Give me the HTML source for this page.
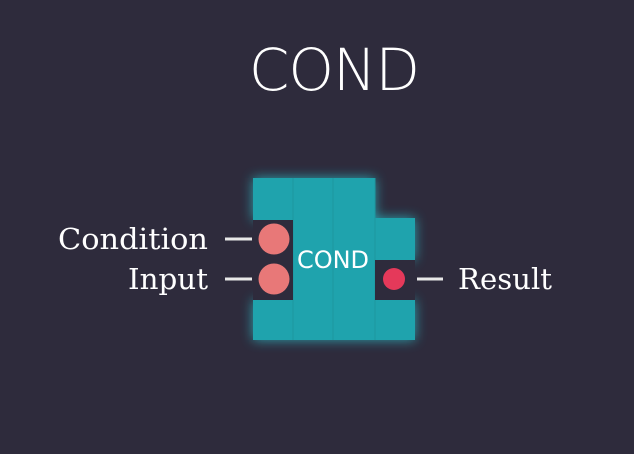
<!DOCTYPE html>
<html><head><style>
html,body{margin:0;padding:0}
body{width:634px;height:454px;background:#2e2b3c;position:relative;overflow:hidden;font-family:"Liberation Sans",sans-serif}
.t{position:absolute;color:#fff}
</style></head><body>
<div class="t" style="left:0;width:668px;text-align:center;top:36px;font-size:58px;font-family:'DejaVu Sans',sans-serif;font-weight:300;letter-spacing:-1px">COND</div>
<svg width="634" height="454" style="position:absolute;left:0;top:0">
<defs><filter id="g" x="-30%" y="-30%" width="160%" height="160%"><feGaussianBlur stdDeviation="6"/></filter></defs>
<g fill="#2ad0dc" opacity="0.7" filter="url(#g)">
<path d="M253 178H375V218H415V260H375V300H415V340H253V300H293V220H253Z"/>
</g>
<path d="M253 178H375V218H415V260H375V300H415V340H253V300H293V220H253Z" fill="#1fa3ad"/>
<g stroke="#1c97a0" stroke-width="1">
<line x1="293" y1="178" x2="293" y2="340"/><line x1="333" y1="178" x2="333" y2="340"/><line x1="375" y1="178" x2="375" y2="340"/>
</g>
<rect x="253" y="220" width="40" height="80" fill="#2e2b3c"/>
<rect x="375" y="260" width="40" height="40" fill="#2e2b3c"/>
<circle cx="274" cy="239" r="15.5" fill="#e87878"/>
<circle cx="274" cy="279" r="15.5" fill="#e87878"/>
<circle cx="394" cy="279" r="11" fill="#e5395a"/>
<g stroke="#e8e8e8" stroke-width="3">
<line x1="225" y1="239" x2="252" y2="239"/><line x1="225" y1="279" x2="252" y2="279"/><line x1="417" y1="279" x2="443" y2="279"/>
</g>
<text x="333" y="268" fill="#fff" font-size="24" text-anchor="middle" font-family="DejaVu Sans, sans-serif">COND</text>
<g fill="#fff" font-size="29" font-family="DejaVu Serif, serif">
<text x="58" y="249" textLength="150" lengthAdjust="spacingAndGlyphs">Condition</text>
<text x="128" y="289" textLength="80" lengthAdjust="spacingAndGlyphs">Input</text>
<text x="458" y="289" textLength="94" lengthAdjust="spacingAndGlyphs">Result</text>
</g>
</svg>
</body></html>
